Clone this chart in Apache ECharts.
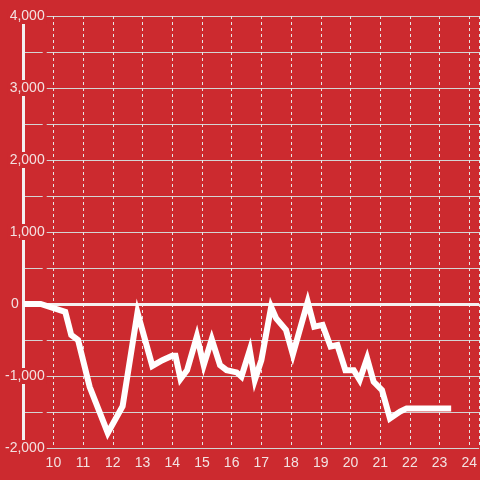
<!DOCTYPE html>
<html><head><meta charset="utf-8">
<script src="https://cdn.jsdelivr.net/npm/echarts@6/dist/echarts.min.js"></script>
<style>html,body{margin:0;padding:0;background:#cc2a2f}#c{width:480px;height:480px}</style>
</head><body><div id="c"></div>
<script>
var hours = [9, 9.57, 10.4, 10.6, 10.83, 11.22, 11.83, 12.33, 12.83, 13.33, 13.67, 14.0, 14.11, 14.28, 14.5, 14.83, 15.06, 15.33, 15.61, 15.83, 16.17, 16.33, 16.61, 16.78, 17.0, 17.33, 17.5, 17.83, 18.06, 18.56, 18.78, 19.06, 19.33, 19.56, 19.83, 20.11, 20.31, 20.56, 20.78, 21.06, 21.33, 21.67, 21.89, 23.39];
var values = [0, 0, -110, -430, -500, -1150, -1790, -1420, -120, -860, -780, -720, -720, -1040, -920, -450, -850, -490, -850, -920, -950, -1010, -640, -1055, -780, -40, -200, -360, -700, 30, -315, -290, -590, -570, -920, -920, -1055, -755, -1080, -1195, -1590, -1495, -1450, -1450];
var xTicks = [10, 11, 12, 13, 14, 15, 16, 17, 18, 19, 20, 21, 22, 23, 24];
var yTicks = [-2000, -1000, 1000, 2000, 3000, 4000];

var BG = '#cc2a2f';
var FONT = "'Liberation Sans', Arial, sans-serif";
var TXT = '#f3e2e2';
var data = hours.map(function (h, i) { return [h, values[i]]; });
function fmtY(v) {
  if (yTicks.indexOf(v) < 0) return '';
  var s = Math.abs(v).toString().replace(/\B(?=(\d{3})+(?!\d))/g, ',');
  return (v < 0 ? '-' : '') + s;
}
var chart = echarts.init(document.getElementById('c'), null, {renderer: 'canvas'});
chart.setOption({
  backgroundColor: BG,
  animation: false,
  grid: {left: 20, right: 0, top: 16, bottom: 32},
  xAxis: {
    type: 'value', min: 9, max: 24.3333, interval: 1,
    axisLine: {show: false}, axisTick: {show: false},
    axisLabel: {
      color: TXT, fontSize: 14, fontFamily: FONT,
      showMinLabel: false, showMaxLabel: false, margin: 8,
      formatter: function (v) { return xTicks.indexOf(v) >= 0 ? String(v) : ''; }
    },
    splitLine: {show: true, lineStyle: {color: '#e6e6e6', width: 1, type: [3, 3]}}
  },
  yAxis: [{
    type: 'value', min: -2000, max: 4000, interval: 500,
    axisLine: {show: false}, axisTick: {show: false}, axisLabel: {show: false},
    splitLine: {show: true, lineStyle: {color: '#d4d4d4', width: 1}}
  }, {
    type: 'value', min: -2000, max: 4000, interval: 500, z: 3, position: 'left',
    axisLine: {show: true, lineStyle: {color: '#f4f0f0', width: 3}},
    axisTick: {show: false}, splitLine: {show: false},
    axisLabel: {
      inside: true, align: 'right', margin: 23,
      color: TXT, fontSize: 14, fontFamily: FONT,
      backgroundColor: BG, padding: [1, 2],
      formatter: fmtY
    }
  }],
  series: [{
    type: 'line', data: data, yAxisIndex: 0, z: 5,
    showSymbol: false, symbol: 'none',
    lineStyle: {color: '#ffffff', width: 6, join: 'miter'},
    markLine: {
      silent: true, symbol: 'none',
      label: {show: true, position: 'start', distance: 5, formatter: '0', color: TXT, fontSize: 14, fontFamily: FONT},
      lineStyle: {color: '#f4f0f0', width: 3, type: 'solid'},
      data: [{yAxis: 0}]
    }
  }]
});
</script></body></html>
